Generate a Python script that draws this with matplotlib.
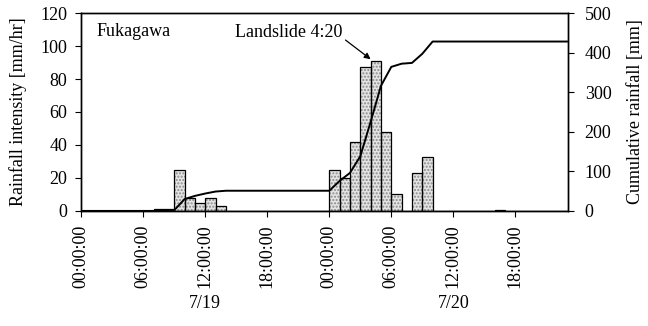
import numpy as np
import matplotlib
matplotlib.use('Agg')
import matplotlib.pyplot as plt

plt.rcParams['font.family'] = ['Liberation Serif', 'DejaVu Serif']

# hourly rainfall intensity [mm/hr], 7/19 00:00 .. 7/20 23:00
hours = np.arange(48)
intensity = [0, 0, 0, 0, 0, 0, 0, 1, 1, 25, 8, 5, 8, 3, 0, 0, 0, 0, 0, 0, 0, 0, 0, 0,
             25, 20, 42, 87, 91, 48, 10, 0, 23, 33, 0, 0, 0, 0, 0, 0, 0.5, 0, 0, 0, 0, 0, 0, 0]
# cumulative rainfall [mm] at each hour
cumulative = [0, 0, 0, 0, 0, 0, 0, 0, 1, 2, 30, 38, 44, 49, 51, 51, 51, 51, 51, 51, 51, 51, 51, 51,
              51, 76, 96, 138, 225, 316, 364, 372, 374, 397, 428, 428, 428, 428, 428, 428, 428, 428,
              428, 428, 428, 428, 428, 428]

tick_hours = [0, 6, 12, 18, 24, 30, 36, 42]
tick_labels = ['00:00:00', '06:00:00', '12:00:00', '18:00:00',
               '00:00:00', '06:00:00', '12:00:00', '18:00:00']
dates = ['7/19', '7/20']
date_pos = [12, 36]

fs = 13

fig = plt.figure(figsize=(6.48, 3.26), dpi=100)
ax = fig.add_axes([0.1255, 0.353, 0.751, 0.607])

# stippled grey bars: dotted fill first, then black outline
ax.bar(hours, intensity, width=1.0, align='edge', color='#e4e4e4',
       edgecolor='#8a8a8a', hatch='.....', linewidth=0)
ax.bar(hours, intensity, width=1.0, align='edge', fill=False,
       edgecolor='black', linewidth=0.9)

ax.set_xlim(0, 47.1)
ax.set_ylim(0, 120)
ax.set_yticks(np.arange(0, 121, 20))
ax.set_xticks(tick_hours)
ax.set_xticklabels(tick_labels, rotation=90, fontsize=fs)
ax.tick_params(axis='y', labelsize=fs, direction='out', length=4, pad=6)
ax.tick_params(axis='x', direction='out', length=4, pad=6)
ax.set_ylabel('Rainfall intensity [mm/hr]', fontsize=fs, labelpad=10)

ax2 = ax.twinx()
ax2.plot(hours, cumulative, color='black', linewidth=1.4)
ax2.set_ylim(0, 500)
ax2.set_yticks(np.arange(0, 501, 100))
ax2.tick_params(axis='y', labelsize=fs, direction='out', length=4, pad=8)
ax2.set_ylabel('Cumulative rainfall [mm]', fontsize=fs, rotation=90, labelpad=11)

for sp in list(ax.spines.values()) + list(ax2.spines.values()):
    sp.set_linewidth(1.0)

ax.text(0.031, 0.905, 'Fukagawa', transform=ax.transAxes, fontsize=fs,
        ha='left', va='center')
ax.annotate('Landslide 4:20', xy=(28.0, 92), xytext=(25.3, 108),
            fontsize=fs, ha='right', va='center',
            arrowprops=dict(arrowstyle='-|>', color='black', lw=0.9,
                            mutation_scale=9, shrinkA=0, shrinkB=0,
                            relpos=(1.0, 0.2)))

for d, p in zip(dates, date_pos):
    ax.text(p, -0.47, d, transform=ax.get_xaxis_transform(), fontsize=fs,
            ha='center', va='center')

fig.savefig('out.png', dpi=100)
